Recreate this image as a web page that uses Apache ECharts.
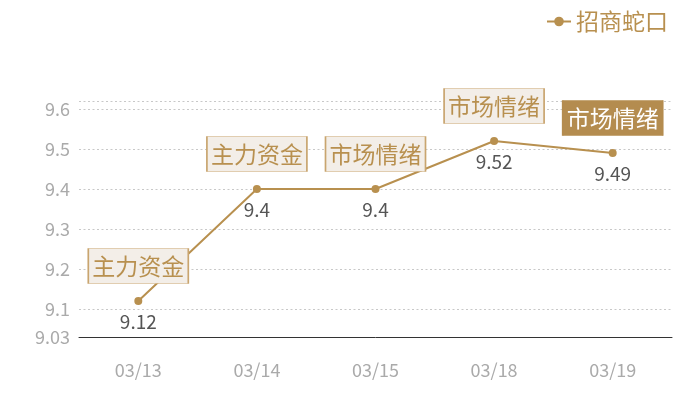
<!DOCTYPE html>
<html>
<head>
<meta charset="utf-8">
<script src="https://cdn.jsdelivr.net/npm/echarts@6/dist/echarts.min.js"></script>
<style>
html, body { margin: 0; padding: 0; background: #fff; }
#main { width: 700px; height: 400px; }
</style>
</head>
<body>
<div id="main"></div>
<script>
// 数据
var dates = ['03/13', '03/14', '03/15', '03/18', '03/19'];
var prices = [9.12, 9.4, 9.4, 9.52, 9.49];
var tags = ['主力资金', '主力资金', '市场情绪', '市场情绪', '市场情绪'];
var seriesName = '招商蛇口';

var gold = '#b8904f';

// 标签框
function getMarks() {
    var arr = [];
    dates.forEach(function (d, i) {
        var last = i === dates.length - 1;
        arr.push({
            coord: [i, prices[i]],
            value: tags[i],
            itemStyle: {
                color: last ? '#b48c4f' : '#f3eee8',
                borderColor: last ? '#b48c4f' : '#c9a56f',
                borderWidth: 1
            },
            label: { color: last ? '#fff' : gold }
        });
    });
    return arr;
}

var myChart = echarts.init(document.getElementById('main'));
var options = {
    animation: false,
    textStyle: { fontFamily: '"Noto Sans CJK SC", "Noto Sans", sans-serif' },
    legend: {
        data: [seriesName],
        right: 27,
        top: 5,
        itemWidth: 24,
        itemHeight: 12,
        itemGap: 6,
        textStyle: { fontSize: 23, color: gold }
    },
    grid: { left: 79, right: 28, top: 101, bottom: 63 },
    xAxis: {
        type: 'category',
        data: dates,
        axisLine: { lineStyle: { color: '#333' } },
        axisTick: { show: false },
        axisLabel: { color: '#aaa', fontSize: 18, margin: 24 }
    },
    yAxis: {
        type: 'value',
        min: 9.03,
        max: 9.62,
        splitNumber: 6,
        axisLine: { show: false },
        axisTick: { show: false },
        axisLabel: { color: '#aaa', fontSize: 18, margin: 9, showMaxLabel: false },
        splitLine: { lineStyle: { color: '#c8c8c8', type: [2, 2.5] } }
    },
    series: [{
        name: seriesName,
        type: 'line',
        data: prices,
        symbol: 'circle',
        symbolSize: 8,
        lineStyle: { color: gold, width: 2 },
        itemStyle: { color: gold },
        label: {
            show: true,
            position: 'bottom',
            distance: 7,
            color: '#555',
            fontSize: 19
        },
        markPoint: {
            symbol: 'rect',
            symbolSize: [100, 35],
            symbolOffset: [0, -35],
            label: {
                show: true,
                position: 'inside',
                fontSize: 23,
                formatter: function (p) { return p.value; }
            },
            data: getMarks()
        }
    }]
};
myChart.setOption(options);
</script>
</body>
</html>
